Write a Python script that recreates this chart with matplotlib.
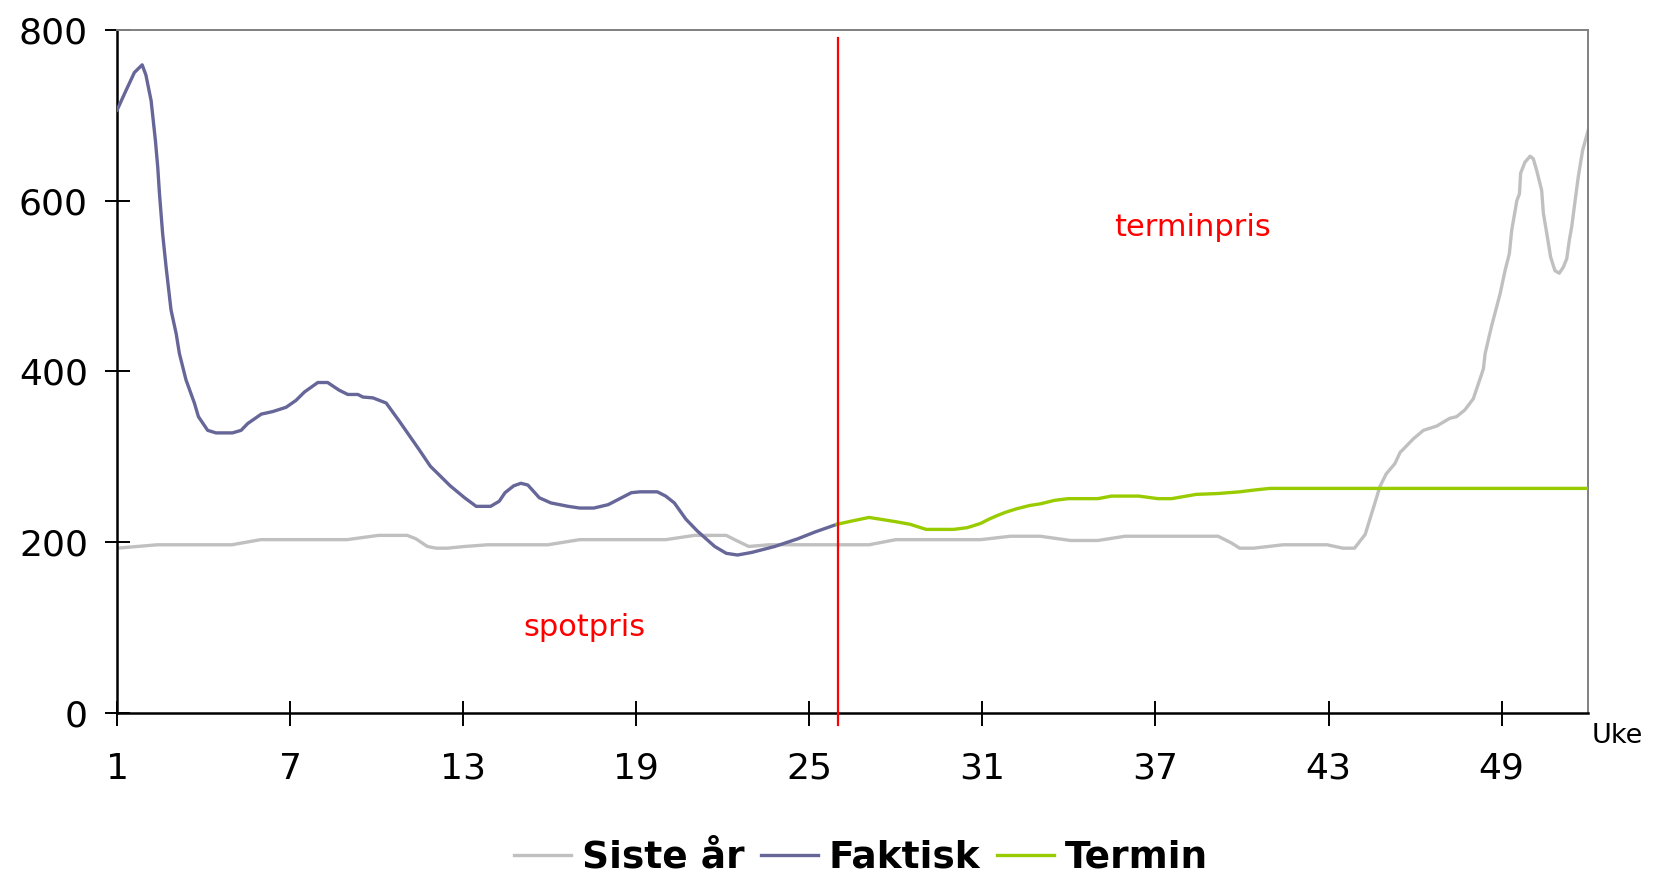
import matplotlib
matplotlib.use("Agg")
import matplotlib.pyplot as plt

# Siste år (last year)
siste_uke = [1, 1.7, 2.4, 4.98, 5.98, 8.97, 10.06, 11.06, 11.36, 11.76, 12.06, 12.45, 13.05,
             13.85, 15.94, 17.04, 20.02, 21.02, 22.12, 22.41, 22.9, 23.6, 27.07, 28.0, 30.94,
             31.98, 33.0, 34.06, 35.0, 35.95, 39.17, 39.64, 39.92, 40.4, 41.43, 42.95, 43.5,
             43.9, 44.27, 44.6, 44.78, 45.0, 45.3, 45.48, 45.94, 46.29, 46.75, 47.2, 47.44,
             47.73, 48.02, 48.37, 48.43, 48.66, 48.95, 49.12, 49.27, 49.35, 49.53, 49.62,
             49.66, 49.81, 49.99, 50.1, 50.22, 50.39, 50.45, 50.57, 50.7, 50.85, 51.0, 51.14,
             51.26, 51.35, 51.43, 51.55, 51.66, 51.81, 52.0]
siste_pris = [193, 195, 197, 197, 203, 203, 208, 208, 204, 195, 193, 193, 195,
              197, 197, 203, 203, 208, 208, 203, 195, 197, 197, 203, 203,
              207, 207, 202, 202, 207, 207, 199, 193, 193, 197, 197, 193,
              193, 209, 245, 265, 280, 292, 305, 321, 331, 336, 345, 347,
              355, 368, 403, 421, 454, 491, 518, 538, 565, 600, 608,
              632, 645, 652, 649, 635, 612, 585, 561, 534, 518, 515, 522,
              532, 554, 569, 600, 628, 659, 682]

# Faktisk (actual spot price)
faktisk_uke = [1, 1.31, 1.6, 1.87, 2.0, 2.18, 2.33, 2.41, 2.47, 2.58, 2.7, 2.87, 3.05, 3.16,
               3.39, 3.68, 3.82, 4.14, 4.43, 5.0, 5.3, 5.53, 6.0, 6.4, 6.86, 7.2, 7.5, 7.96,
               8.3, 8.7, 9.0, 9.35, 9.52, 9.87, 10.33, 10.8, 11.46, 11.86, 12.55, 13.05,
               13.45, 13.95, 14.25, 14.45, 14.75, 15.0, 15.24, 15.64, 16.04, 16.64, 17.04,
               17.53, 18.03, 18.43, 18.83, 19.13, 19.73, 20.02, 20.32, 20.72, 21.12, 21.72,
               22.12, 22.51, 23.0, 23.8, 24.6, 25.2, 25.96]
faktisk_pris = [706, 729, 750, 759, 747, 717, 670, 639, 608, 561, 522, 472, 444, 421,
                390, 363, 347, 331, 328, 328, 331, 339, 350, 353, 358, 366, 376, 387,
                387, 378, 373, 373, 370, 369, 363, 341, 309, 289, 266, 252,
                242, 242, 248, 258, 266, 269, 267, 252, 246, 242, 240,
                240, 244, 251, 258, 259, 259, 254, 246, 227, 213, 195,
                187, 185, 188, 195, 204, 212, 221]

# Termin (forward price)
termin_uke = [25.96, 26.5, 27.07, 28.0, 28.49, 29.05, 30.0, 30.47, 30.94, 31.23, 31.5, 31.8,
              32.17, 32.64, 33.02, 33.5, 33.97, 35.0, 35.48, 36.42, 37.09, 37.56, 38.41,
              39.17, 39.92, 40.4, 40.96, 52.0]
termin_pris = [221, 225, 229, 224, 221, 215, 215, 217, 222, 227, 231, 235,
               239, 243, 245, 249, 251, 251, 254, 254, 251, 251, 256,
               257, 259, 261, 263, 263]

skille_uke = 26
uke_ticks = [1, 7, 13, 19, 25, 31, 37, 43, 49]
y_ticks = [0, 200, 400, 600, 800]

fig = plt.figure(figsize=(16.56, 8.77), dpi=100)
ax = fig.add_axes([0.0707, 0.187, 0.8883, 0.779])

ax.plot(siste_uke, siste_pris, color="#C0C0C0", lw=2.4, label="Siste år", zorder=2)
ax.plot(faktisk_uke, faktisk_pris, color="#666699", lw=2.4, label="Faktisk", zorder=3)
ax.plot(termin_uke, termin_pris, color="#99CC00", lw=2.4, label="Termin", zorder=3)
ax.plot([skille_uke, skille_uke], [-14, 791], color="red", lw=1.6, clip_on=False, zorder=4)

ax.text(38.3, 569, "terminpris", color="red", fontsize=22, ha="center", va="center")
ax.text(17.2, 100, "spotpris", color="red", fontsize=22, ha="center", va="center")

ax.set_xlim(1, 52)
ax.set_ylim(0, 800)
ax.set_xticks(uke_ticks)
ax.set_yticks(y_ticks)
ax.tick_params(axis="both", direction="inout", length=18, width=1.4, labelsize=26)
ax.tick_params(axis="x", pad=19)
ax.tick_params(axis="y", pad=12)

for s in ["left", "bottom"]:
    ax.spines[s].set_color("black")
    ax.spines[s].set_linewidth(1.8)
for s in ["top", "right"]:
    ax.spines[s].set_color("#808080")
    ax.spines[s].set_linewidth(1.4)

fig.text(1592 / 1656, 1 - 736 / 877, "Uke", fontsize=19.5, ha="left", va="center")

leg = fig.legend(loc="center", bbox_to_anchor=(0.52, 0.022), ncol=3, frameon=False,
                 prop={"weight": "bold", "size": 27}, handlelength=1.5,
                 handletextpad=0.3, columnspacing=0.45)

fig.savefig("out.png", dpi=100)
